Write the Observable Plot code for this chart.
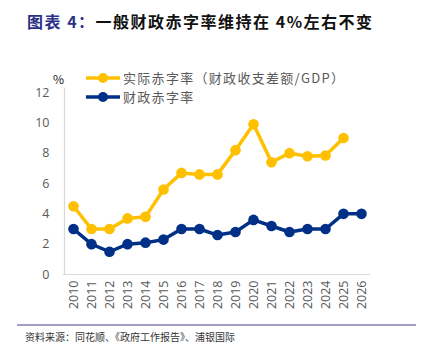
<!DOCTYPE html>
<html><head><meta charset="utf-8">
<script src="https://cdn.jsdelivr.net/npm/d3@7"></script>
<script src="https://cdn.jsdelivr.net/npm/@observablehq/plot@0.6"></script>
<style>
body{margin:0;background:#fff;font-family:"Noto Sans CJK SC","Noto Sans",sans-serif;}
#wrap{position:relative;width:426px;height:357px;overflow:hidden;}
#title{position:absolute;left:27px;top:9px;font-size:16px;font-weight:bold;letter-spacing:1.5px;color:#111;white-space:nowrap;}
#title .lab{color:#2b2f86;}
.leg{position:absolute;left:86px;font-size:13px;letter-spacing:1.3px;color:#595959;white-space:nowrap;display:flex;align-items:center;}
.leg svg{margin-right:3px;}
#unit{position:absolute;left:53px;top:70px;font-size:12px;color:#222;}
#rule{position:absolute;left:17px;top:324px;width:399px;height:1.5px;background:#a09fc4;}
#src{position:absolute;left:25px;top:329px;font-size:10px;color:#333;white-space:nowrap;}
#plot{position:absolute;left:0;top:0;}
</style></head>
<body>
<div id="wrap">
<div id="plot"></div>
<div id="title"><span class="lab">图表 4：</span>一般财政赤字率维持在 4%左右不变</div>
<div id="unit">%</div>
<div id="legend"></div>
<div id="rule"></div>
<div id="src">资料来源：同花顺、《政府工作报告》、浦银国际</div>
</div>
<script>
const years = [2010,2011,2012,2013,2014,2015,2016,2017,2018,2019,2020,2021,2022,2023,2024,2025,2026];
const actualDeficit = [4.5,3.0,3.0,3.7,3.8,5.6,6.7,6.6,6.6,8.2,9.9,7.4,8.0,7.8,7.85,9.0,null];
const fiscalDeficit = [3.0,2.0,1.5,2.0,2.1,2.3,3.0,3.0,2.6,2.8,3.6,3.2,2.8,3.0,3.0,4.0,4.0];
const seriesNames = ["实际赤字率（财政收支差额/GDP）","财政赤字率"];
const colors = ["#FFC000","#002F87"];
const yTicks = [0,2,4,6,8,10,12];

const rows = [];
years.forEach((y,i)=>{
  if (actualDeficit[i]!=null) rows.push({year:String(y), v:actualDeficit[i], s:seriesNames[0]});
  if (fiscalDeficit[i]!=null) rows.push({year:String(y), v:fiscalDeficit[i], s:seriesNames[1]});
});

const chart = Plot.plot({
  width:426, height:357,
  marginLeft:63, marginRight:56, marginTop:92, marginBottom:83,
  style:{fontFamily:"'Open Sans','Noto Sans',sans-serif", fontSize:"12px", color:"#595959", background:"transparent"},
  x:{type:"point", domain:years.map(String), padding:0.5},
  y:{domain:[0,12]},
  color:{domain:seriesNames, range:colors},
  marks:[
    Plot.axisX({tickRotate:-90, tickSize:0, tickPadding:6, fontSize:12.5, label:null, fill:"#595959"}),
    Plot.axisY({ticks:yTicks, tickSize:0, tickPadding:14, fontSize:12.5, label:null, fill:"#595959"}),
    Plot.ruleY([0], {stroke:"#d9d9d9", strokeWidth:1.2}),
    Plot.ruleX([years[0]].map(String), {dx:-9, y1:0, y2:12.3, stroke:"#d9d9d9", strokeWidth:1.2}),
    Plot.line(rows, {x:"year", y:"v", z:"s", stroke:"s", strokeWidth:3.5}),
    Plot.dot(rows, {x:"year", y:"v", fill:"s", r:5.3})
  ]
});
document.getElementById("plot").appendChild(chart);

const legend = document.getElementById("legend");
seriesNames.forEach((n,i)=>{
  const d = document.createElement("div");
  d.className="leg";
  d.style.top = (68 + i*19) + "px";
  d.innerHTML = `<svg width="34" height="12"><line x1="0" y1="6" x2="34" y2="6" stroke="${colors[i]}" stroke-width="3.5"/><circle cx="17" cy="6" r="5" fill="${colors[i]}"/></svg>${n}`;
  legend.appendChild(d);
});
</script>
</body></html>
